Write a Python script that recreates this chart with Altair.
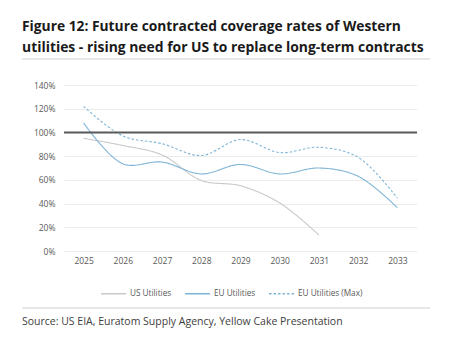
import altair as alt
import pandas as pd

years = ["2025", "2026", "2027", "2028", "2029", "2030", "2031", "2032", "2033"]
us_utilities = [0.95, 0.89, 0.81, 0.595, 0.55, 0.405, 0.135, None, None]
eu_utilities = [1.08, 0.735, 0.75, 0.65, 0.73, 0.65, 0.70, 0.63, 0.365]
eu_utilities_max = [1.22, 0.97, 0.905, 0.805, 0.94, 0.83, 0.875, 0.79, 0.445]
series_names = ["US Utilities", "EU Utilities", "EU Utilities (Max)"]
series_colors = ["#c9c9c9", "#7eb4d6", "#7eb4d6"]
series_dash = [[1, 0], [1, 0], [2.5, 2]]
y_ticks = [0, 0.2, 0.4, 0.6, 0.8, 1.0, 1.2, 1.4]
reference_level = [1.0]

title_line1 = ["Figure 12: Future contracted coverage rates of Western"]
title_line2 = ["utilities - rising need for US to replace long-term contracts"]
source_text = ["Source: US EIA, Euratom Supply Agency, Yellow Cake Presentation"]

rows = []
for name, vals in zip(series_names, [us_utilities, eu_utilities, eu_utilities_max]):
    for yr, v in zip(years, vals):
        if v is not None:
            rows.append({"year": yr, "value": v, "series": name})
df = pd.DataFrame(rows)

FONT = "Open Sans"
W, H = 353, 166

x_enc = alt.X("year:O", sort=years, title=None,
              axis=alt.Axis(labelAngle=0, domain=False, ticks=False, labelPadding=5,
                            labelFontSize=8.5, labelColor="#595959", labelFont=FONT, grid=False))
y_scale = alt.Scale(domain=[0, 1.4], nice=False)
y_axis = alt.Axis(values=y_ticks, format=".0%", domain=False, ticks=False,
                  labelOverlap=False, labelPadding=9, labelFontSize=8.5,
                  labelColor="#595959", labelFont=FONT,
                  gridColor="#ececec", gridWidth=1)

lines = alt.Chart(df).mark_line(interpolate="catmull-rom", strokeWidth=1.1).encode(
    x=x_enc,
    y=alt.Y("value:Q", scale=y_scale, title=None, axis=y_axis),
    color=alt.Color("series:N", sort=series_names,
                    scale=alt.Scale(domain=series_names, range=series_colors),
                    legend=alt.Legend(title=None, orient="none", direction="horizontal",
                                      legendX=36, legendY=195, symbolType="stroke",
                                      symbolSize=620, symbolStrokeWidth=1.5,
                                      labelFont=FONT, labelFontSize=8.2, labelColor="#595959",
                                      columnPadding=10, symbolOffset=0, labelOffset=3)),
    strokeDash=alt.StrokeDash("series:N", sort=series_names,
                              scale=alt.Scale(domain=series_names, range=series_dash),
                              legend=None),
)

ref = alt.Chart(pd.DataFrame({"v": reference_level})).mark_rule(
    color="#595959", strokeWidth=2).encode(
    y=alt.Y("v:Q", scale=y_scale, title=None, axis=y_axis))


def text_layer(txt, y, size, weight="normal", color="#1a1a1a"):
    return alt.Chart(pd.DataFrame({"t": txt})).mark_text(
        font=FONT, fontSize=size, fontWeight=weight, align="left", baseline="middle",
        color=color).encode(text="t:N", x=alt.value(-42), y=alt.value(y))


title1 = text_layer(title_line1, -58, 13.8, "bold")
title2 = text_layer(title_line2, -37, 13.9, "bold")

top_rule = alt.Chart(pd.DataFrame({"a": [0]})).mark_rule(color="#cfcfcf", strokeWidth=1).encode(
    x=alt.value(-42), x2=alt.value(366), y=alt.value(-26))
bot_rule = alt.Chart(pd.DataFrame({"a": [0]})).mark_rule(color="#cfcfcf", strokeWidth=1).encode(
    x=alt.value(-42), x2=alt.value(366), y=alt.value(223))

source = text_layer(source_text, 237, 10.5, color="#404040")

chart = alt.layer(lines, ref, title1, title2, top_rule, bot_rule, source).properties(
    width=W, height=H,
    autosize=alt.AutoSizeParams(type="none"),
    padding={"left": 64, "top": 85, "right": 51, "bottom": 106},
).configure(background="white", view=alt.ViewConfig(stroke=None))

chart.save("out.html", embed_options={"renderer": "svg", "actions": False})
